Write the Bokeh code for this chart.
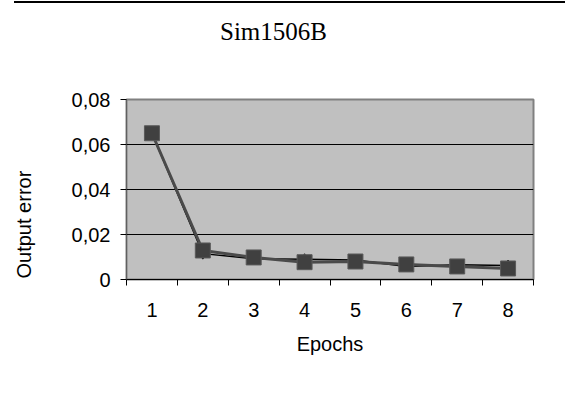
from bokeh.plotting import figure
from bokeh.models import (Div, FixedTicker, Title, Range1d, ColumnDataSource)
from bokeh.layouts import column
from bokeh.embed import file_html
from bokeh.resources import INLINE

# ---- data ----
epochs = [1, 2, 3, 4, 5, 6, 7, 8]
err_diamond = [0.065, 0.0115, 0.0092, 0.0090, 0.0087, 0.0058, 0.0066, 0.0062]
err_square = [0.065, 0.0129, 0.0098, 0.0077, 0.0080, 0.0067, 0.0058, 0.0049]
y_ticks = [0, 0.02, 0.04, 0.06, 0.08]
y_tick_labels = ["0", "0,02", "0,04", "0,06", "0,08"]
x_tick_labels = ["1", "2", "3", "4", "5", "6", "7", "8"]
title_text = "Sim1506B"
x_title = "Epochs"
y_title = "Output error"

SANS = "Liberation Sans"
SERIF = "Liberation Serif"

src = ColumnDataSource(dict(x=epochs, d=err_diamond, s=err_square))

p = figure(width=565, height=347, output_backend="svg", toolbar_location=None,
           x_range=Range1d(0.5, 8.5), y_range=Range1d(0, 0.08),
           min_border_left=126, min_border_right=32,
           min_border_top=48, min_border_bottom=119)

p.background_fill_color = "#c0c0c0"
p.border_fill_color = "white"
p.outline_line_color = "#808080"
p.outline_line_width = 2

# series
p.line("x", "d", source=src, line_color="black", line_width=1.5)
p.scatter("x", "d", source=src, marker="diamond", size=11,
          fill_color="black", line_color="black")
p.line("x", "s", source=src, line_color="#4a4a4a", line_width=3)
p.scatter("x", "s", source=src, marker="square", size=15,
          fill_color="#404040", line_color="#5a5a5a", line_width=1)

# x axis: labels at category centres, tick marks at category boundaries
xa = p.xaxis[0]
xa.ticker = FixedTicker(ticks=epochs, minor_ticks=[i + 0.5 for i in range(0, 9)])
xa.major_label_overrides = {e: t for e, t in zip(epochs, x_tick_labels)}
xa.major_tick_out = 0
xa.major_tick_in = 0
xa.minor_tick_out = 6
xa.minor_tick_in = 0
xa.minor_tick_line_color = "black"
xa.axis_line_color = "black"
xa.major_label_text_font = SANS
xa.major_label_text_font_size = "20px"
xa.major_label_text_color = "black"
xa.major_label_standoff = 17
xa.axis_label = x_title
xa.axis_label_text_font = SANS
xa.axis_label_text_font_size = "20px"
xa.axis_label_text_font_style = "normal"
xa.axis_label_text_color = "black"
xa.axis_label_standoff = 13

ya = p.yaxis[0]
ya.ticker = FixedTicker(ticks=y_ticks, minor_ticks=[])
ya.major_label_overrides = {v: t for v, t in zip(y_ticks, y_tick_labels)}
ya.major_tick_out = 6
ya.major_tick_in = 0
ya.major_tick_line_color = "black"
ya.axis_line_color = "#606060"
ya.major_label_text_font = SANS
ya.major_label_text_font_size = "20px"
ya.major_label_text_color = "black"
ya.major_label_standoff = 10
# blank spacer label widens the axis so the title below sits further left
ya.axis_label = " "
ya.axis_label_text_font_size = "20px"
ya.axis_label_standoff = 9

p.xgrid.grid_line_color = None
p.ygrid.grid_line_color = "black"
p.ygrid.grid_line_width = 1
p.ygrid.ticker = FixedTicker(ticks=[0.02, 0.04, 0.06])

# y-axis title (placed off-centre like the reference)
p.add_layout(Title(text=y_title, align="left", offset=1, standoff=0,
                   text_font=SANS, text_font_size="20px", text_font_style="normal",
                   text_color="black"), "left")

top_rule = Div(width=551, height=2, margin=(1, 0, 0, 14),
               styles={"background-color": "black"})
chart_title = Div(text=title_text, width=300, height=33, margin=(15, 0, 0, 220),
                  styles={"font-family": SERIF, "font-size": "25px",
                          "color": "black", "line-height": "1.15"})

layout = column(top_rule, chart_title, p, spacing=0)
open("out.html", "w").write(file_html(layout, INLINE))
